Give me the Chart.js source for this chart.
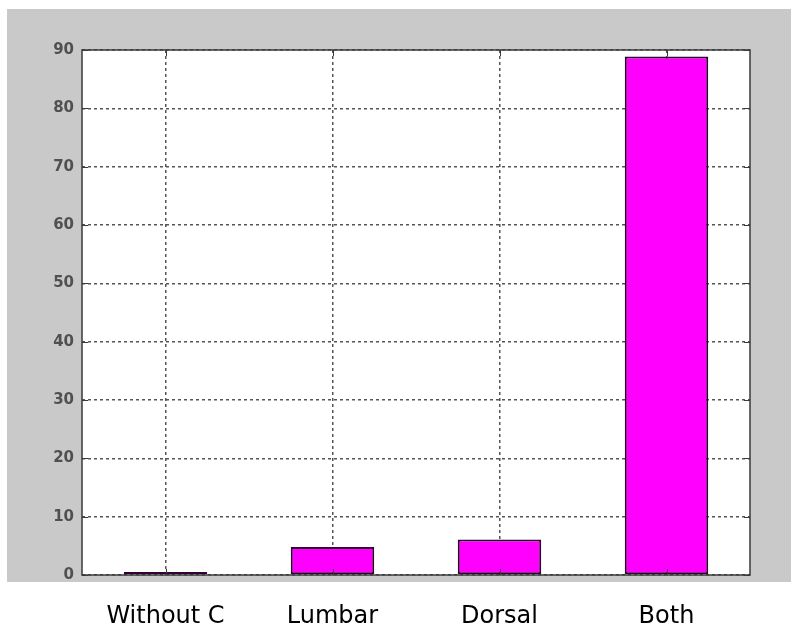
<!DOCTYPE html>
<html>
<head>
<meta charset="utf-8">
<script src="https://cdn.jsdelivr.net/npm/chart.js@4/dist/chart.umd.min.js"></script>
<style>
  html, body { margin: 0; padding: 0; background: #fff; }
  #wrap { width: 791px; height: 628px; }
</style>
</head>
<body>
<div id="wrap"><canvas id="chart" width="791" height="628"></canvas></div>
<script>
const categories = ['Without C', 'Lumbar', 'Dorsal', 'Both'];
const values = [0.5, 4.8, 6.1, 88.9];
const yTicks = [0, 10, 20, 30, 40, 50, 60, 70, 80, 90];

// grey figure background + white axes box, matlab style
const matlabFrame = {
    id: 'matlabFrame',
    beforeDraw(chart) {
        const ctx = chart.ctx;
        const a = chart.chartArea;
        ctx.save();
        ctx.fillStyle = '#fff';
        ctx.fillRect(0, 0, chart.width, chart.height);
        ctx.fillStyle = '#c9c9c9';
        ctx.fillRect(7, 9, chart.width - 7, 573);
        ctx.fillStyle = '#fff';
        ctx.fillRect(a.left, a.top, a.right - a.left, a.bottom - a.top);
        ctx.restore();
    },
    afterDraw(chart) {
        const ctx = chart.ctx;
        const a = chart.chartArea;
        const x = chart.scales.x;
        const y = chart.scales.y;
        ctx.save();
        ctx.strokeStyle = '#3a3a3a';
        ctx.lineWidth = 1.5;
        ctx.strokeRect(a.left, a.top, a.right - a.left, a.bottom - a.top);
        // little inward tick marks
        ctx.lineWidth = 1;
        ctx.beginPath();
        yTicks.forEach(v => {
            const py = Math.round(y.getPixelForValue(v)) + 0.5;
            ctx.moveTo(a.left, py); ctx.lineTo(a.left + 6, py);
            ctx.moveTo(a.right, py); ctx.lineTo(a.right - 6, py);
        });
        categories.forEach((c, i) => {
            const px = Math.round(x.getPixelForValue(i)) + 0.5;
            ctx.moveTo(px, a.top); ctx.lineTo(px, a.top + 6);
            ctx.moveTo(px, a.bottom); ctx.lineTo(px, a.bottom - 6);
        });
        ctx.stroke();
        ctx.restore();
    }
};

new Chart(document.getElementById('chart'), {
    type: 'bar',
    data: {
        labels: categories,
        datasets: [{
            data: values,
            backgroundColor: '#ff00ff',
            borderColor: '#330033',
            borderWidth: 2,
            borderSkipped: false,
            barPercentage: 0.5,
            categoryPercentage: 1
        }]
    },
    options: {
        responsive: false,
        animation: false,
        layout: { padding: { top: 50, right: 41, left: 0, bottom: 0 } },
        plugins: {
            legend: { display: false },
            tooltip: { enabled: false }
        },
        scales: {
            x: {
                offset: true,
                grid: { offset: false, color: '#555', lineWidth: 1.5, drawTicks: false },
                border: { display: false, dash: [3, 3] },
                ticks: {
                    color: '#000',
                    padding: 27,
                    font: { family: 'DejaVu Sans', size: 24 }
                },
                afterFit(scale) { scale.height = 53; }
            },
            y: {
                min: 0,
                max: 90,
                afterBuildTicks(scale) { scale.ticks = yTicks.map(v => ({ value: v })); },
                grid: { color: '#555', lineWidth: 1.5, drawTicks: false },
                border: { display: false, dash: [3, 3] },
                ticks: {
                    color: '#505050',
                    padding: 8,
                    font: { family: 'DejaVu Sans', size: 15, weight: 'bold' }
                },
                afterFit(scale) { scale.width = 82; }
            }
        }
    },
    plugins: [matlabFrame]
});
</script>
</body>
</html>
